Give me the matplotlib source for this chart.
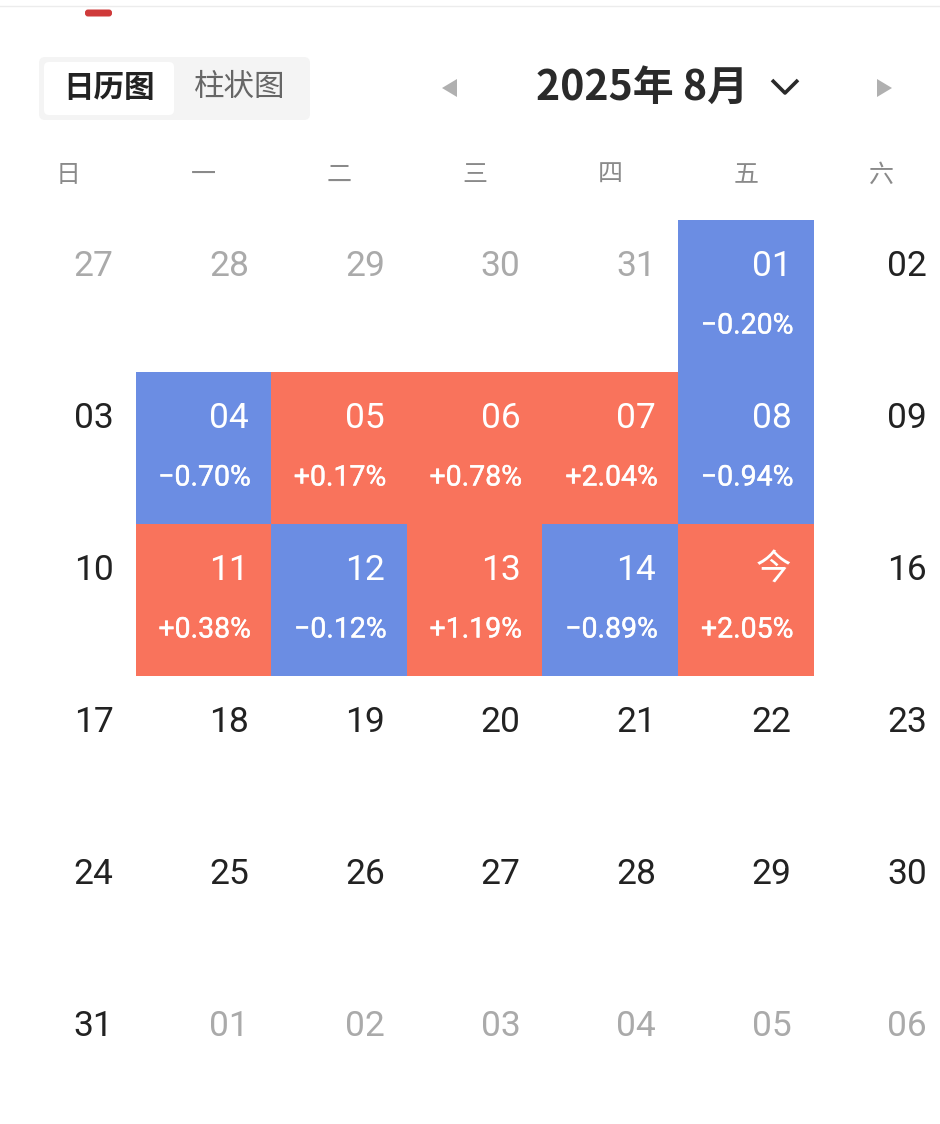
import matplotlib.pyplot as plt
import matplotlib.patheffects as pe
from matplotlib.patches import FancyBboxPatch, Polygon

# calendar data, August 2025
title = "2025年 8月"
tabs = ["日历图", "柱状图"]
weekdays = ["日", "一", "二", "三", "四", "五", "六"]
weeks = [
    ["27", "28", "29", "30", "31", "01", "02"],
    ["03", "04", "05", "06", "07", "08", "09"],
    ["10", "11", "12", "13", "14", "今", "16"],
    ["17", "18", "19", "20", "21", "22", "23"],
    ["24", "25", "26", "27", "28", "29", "30"],
    ["31", "01", "02", "03", "04", "05", "06"],
]
# cells that belong to previous / next month (row, col)
other_month = [(0, 0), (0, 1), (0, 2), (0, 3), (0, 4),
               (5, 1), (5, 2), (5, 3), (5, 4), (5, 5), (5, 6)]
trade_days = [1, 4, 5, 6, 7, 8, 11, 12, 13, 14, 15]
changes = [-0.20, -0.70, 0.17, 0.78, 2.04, -0.94, 0.38, -0.12, 1.19, -0.89, 2.05]
first_weekday = 5  # Aug 1 is a Friday

UP = "#f9735c"
DOWN = "#6b8de3"
CW, RH, Y0 = 135.6, 152, 220

plt.rcParams['font.family'] = ['Noto Sans CJK SC', 'DejaVu Sans']

fig = plt.figure(figsize=(9.4, 11.24), dpi=100)
ax = fig.add_axes([0, 0, 1, 1])
ax.set_xlim(0, 940)
ax.set_ylim(1124, 0)
ax.axis('off')

# top bits
ax.plot([0, 940], [6, 6], color="#ececec", lw=1)
ax.add_patch(FancyBboxPatch((86, 10.5), 25, 5, boxstyle="round,pad=1,rounding_size=3",
                            fc="#cf3a3a", ec="none"))

# tab switch
ax.add_patch(FancyBboxPatch((42, 60), 265, 57, boxstyle="round,pad=3,rounding_size=6",
                            fc="#f4f4f4", ec="none"))
ax.add_patch(FancyBboxPatch((46, 64), 126, 49, boxstyle="round,pad=2,rounding_size=5",
                            fc="white", ec="none"))
ax.text(109, 88, tabs[0], fontsize=22, fontweight='bold', color="#222222",
        ha='center', va='center')
ax.text(240, 88, tabs[1], fontsize=22, color="#666666", ha='center', va='center')

# month header
ax.text(642, 88, title, fontsize=29.5, fontweight='bold', color="#2a2a2a",
        ha='center', va='center')
ax.plot([772, 785, 798], [80, 93, 80], color="#2a2a2a", lw=2.6, solid_capstyle='butt')
ax.add_patch(Polygon([[442, 88], [457, 79], [457, 97]], closed=True, fc="#b0b0b0", ec="none"))
ax.add_patch(Polygon([[892, 88], [877, 79], [877, 97]], closed=True, fc="#b0b0b0", ec="none"))

# weekday header
for c, w in enumerate(weekdays):
    ax.text(c * CW + CW / 2, 175, w, fontsize=18, fontweight='light', color="#8a8a8a",
            ha='center', va='center')

# coloured trading-day cells
for d, v in zip(trade_days, changes):
    idx = d - 1 + first_weekday
    r, c = idx // 7, idx % 7
    ax.bar(c * CW, RH, width=CW, bottom=Y0 + r * RH, align='edge',
           color=UP if v > 0 else DOWN, linewidth=0)
    label = ("+" if v > 0 else "\u2212") + "%.2f%%" % abs(v)
    ax.text((c + 1) * CW - 20, Y0 + r * RH + 106, label, fontsize=20.5,
            color="white", ha='right', va='center', family=['Roboto', 'DejaVu Sans'],
            path_effects=[pe.withStroke(linewidth=0.3, foreground="white")])

# day numbers
traded = set()
for d in trade_days:
    idx = d - 1 + first_weekday
    traded.add((idx // 7, idx % 7))
for r, week in enumerate(weeks):
    for c, day in enumerate(week):
        if (r, c) in traded:
            col = "white"
        elif (r, c) in other_month:
            col = "#aaaaaa"
        else:
            col = "#222222"
        fam = ['Noto Sans CJK SC'] if day == "今" else ['Roboto', 'DejaVu Sans']
        ax.text((c + 1) * CW - 22, Y0 + r * RH + 46, day, fontsize=25.5,
                color=col, ha='right', va='center', family=fam)

fig.savefig("out.png", dpi=100)
